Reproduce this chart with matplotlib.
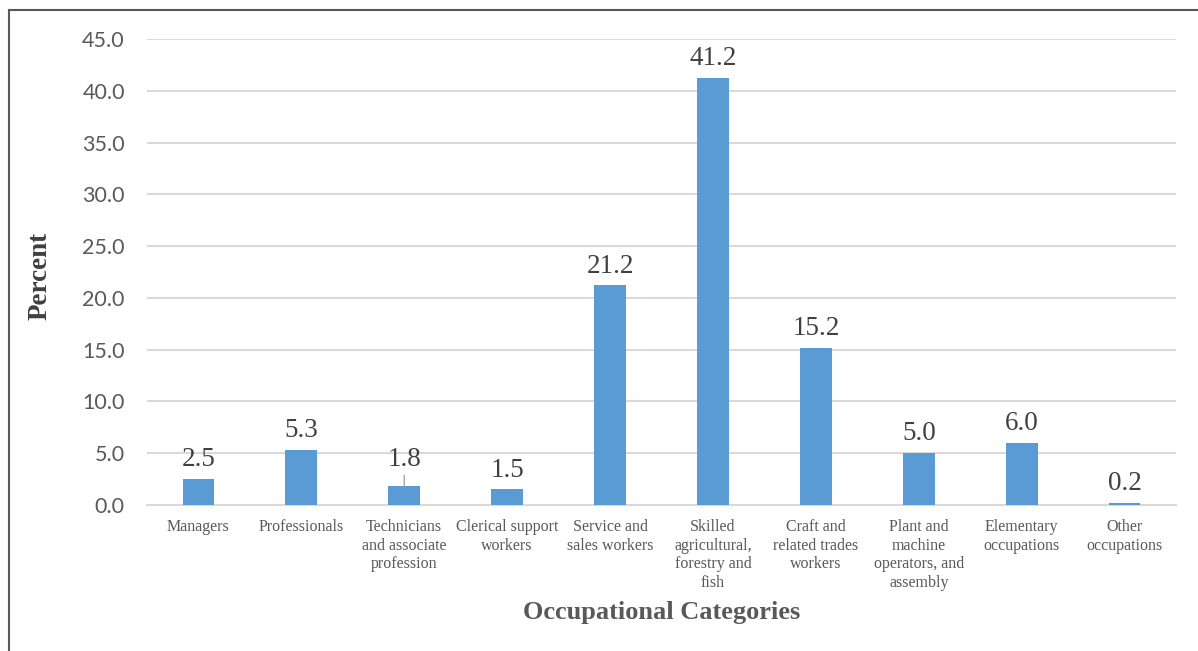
import matplotlib
matplotlib.use("Agg")
from matplotlib import pyplot as plt
from matplotlib.lines import Line2D

categories = ["Managers", "Professionals", "Technicians\nand associate\nprofession",
              "Clerical support\nworkers", "Service and\nsales workers",
              "Skilled\nagricultural,\nforestry and\nfish", "Craft and\nrelated trades\nworkers",
              "Plant and\nmachine\noperators, and\nassembly", "Elementary\noccupations",
              "Other\noccupations"]
percent = [2.5, 5.3, 1.8, 1.5, 21.2, 41.2, 15.2, 5.0, 6.0, 0.2]
yticks = [0, 5, 10, 15, 20, 25, 30, 35, 40, 45]

fig = plt.figure(figsize=(11.98, 6.51), dpi=100)
ax = fig.add_axes([147 / 1198, 1 - 505 / 651, 1029 / 1198, 466 / 651])

x = list(range(len(categories)))
ax.bar(x, percent, width=0.31, color="#5B9BD5", zorder=3)

# value labels
for i, v in enumerate(percent):
    if i == 2:
        # this one sits higher with a small leader line
        ax.annotate(f"{v:.1f}", (i, v), xytext=(0, 10), textcoords="offset points",
                    ha="center", va="bottom", fontsize=19.5, family="Liberation Serif",
                    color="#404040", zorder=4,
                    arrowprops=dict(arrowstyle="-", color="#A6A6A6", lw=1,
                                    shrinkA=0, shrinkB=0))
    else:
        ax.annotate(f"{v:.1f}", (i, v), xytext=(0, 5), textcoords="offset points",
                    ha="center", va="bottom", fontsize=19.5, family="Liberation Serif",
                    color="#404040", zorder=4)

ax.set_xlim(-0.5, len(categories) - 0.5)
ax.set_ylim(0, 45)
ax.set_yticks(yticks)
ax.set_yticklabels([f"{t:.1f}" for t in yticks], family="Lato", fontsize=15.5, color="#595959")
ax.set_xticks(x)
ax.set_xticklabels(categories, family="Liberation Serif", fontsize=11.5, color="#595959",
                   linespacing=1.22, va="top")
ax.tick_params(axis="both", length=0)
ax.tick_params(axis="x", pad=10)
ax.tick_params(axis="y", pad=16)

ax.grid(axis="y", color="#D9D9D9", linewidth=1.5, zorder=0)
for s in ["top", "right", "left"]:
    ax.spines[s].set_visible(False)
ax.spines["bottom"].set_color("#D9D9D9")
ax.spines["bottom"].set_linewidth(1.5)

fig.text(40 / 1198, 1 - 276 / 651, "Percent", rotation=90, ha="center", va="center",
         family="Liberation Serif", fontweight="bold", fontsize=19.5, color="#404040")
fig.text(662 / 1198, 1 - 612 / 651, "Occupational Categories", ha="center", va="center",
         family="Liberation Serif", fontweight="bold", fontsize=19, color="#595959")

# outer frame (top and left edges)
fig.add_artist(Line2D([9 / 1198, 1], [1 - 10 / 651, 1 - 10 / 651], color="#595959", lw=1.5))
fig.add_artist(Line2D([9 / 1198, 9 / 1198], [0, 1 - 10 / 651], color="#595959", lw=1.5))

fig.savefig("out.png", dpi=100)
